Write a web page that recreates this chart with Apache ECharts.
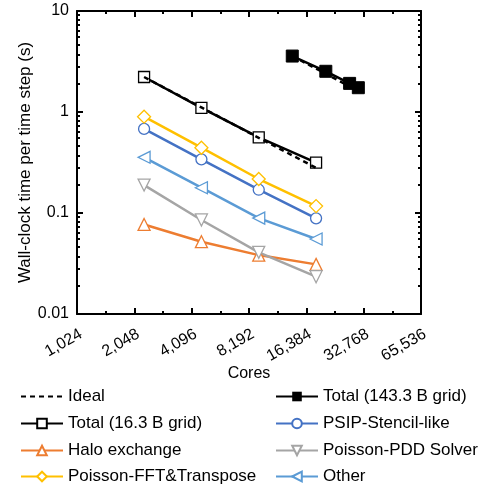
<!DOCTYPE html>
<html><head><meta charset="utf-8">
<script src="https://cdn.jsdelivr.net/npm/echarts@6/dist/echarts.min.js"></script>
<style>html,body{margin:0;padding:0;background:#fff}#c{width:482px;height:487px}</style>
</head><body><div id="c"></div>
<script>
const coresSmall = [2304, 4608, 9216, 18432];
const coresLarge = [13824, 20736, 27648, 30720];
const idealSmall = [2.22, 1.11, 0.555, 0.28];
const idealLarge = [3.58, 2.39, 1.79, 1.61];
const totalLarge = [3.58, 2.53, 1.92, 1.74];
const totalSmall = [2.22, 1.10, 0.562, 0.315];
const psip = [0.68, 0.34, 0.17, 0.0885];
const halo = [0.077, 0.052, 0.0383, 0.031];
const pdd = [0.189, 0.0853, 0.0408, 0.0234];
const fft = [0.899, 0.443, 0.217, 0.117];
const other = [0.356, 0.178, 0.089, 0.0553];
const xTicks = ['1,024','2,048','4,096','8,192','16,384','32,768','65,536'];
const legendLeft = ['Ideal','Total (16.3 B grid)','Halo exchange','Poisson-FFT&Transpose'];
const legendRight = ['Total (143.3 B grid)','PSIP-Stencil-like','Poisson-PDD Solver','Other'];

const FONT = 'Liberation Sans, Arial, sans-serif';
function pairs(xs, ys){ return xs.map((x,i)=>[x, ys[i]]); }
function openSeries(name, color, ys, symbol, rot, size){
  return {name, type:'line', xAxisIndex:0, yAxisIndex:0, data:pairs(coresSmall, ys),
    symbol, symbolRotate: rot||0, symbolSize: size||11,
    lineStyle:{color, width:2.5}, itemStyle:{color:'#fff', borderColor:color, borderWidth:1.3},
    z:3};
}
const chart = echarts.init(document.getElementById('c'), null, {renderer:'canvas'});
const axisLine = {show:true, lineStyle:{color:'#000', width:2}};
const rowTops = [388, 415, 442, 468];
function mkLegend(left, name, row){
  const item = name === 'Ideal'
    ? {name, itemStyle:{color:'rgba(0,0,0,0)', borderColor:'rgba(0,0,0,0)', opacity:0}}
    : name;
  return {left, top:rowTops[row], orient:'horizontal', padding:0, itemWidth:42, itemHeight:12,
    textStyle:{fontSize:17, color:'#000', fontFamily:FONT}, data:[item]};
}
const legends = [];
legendLeft.forEach((n,i)=>legends.push(mkLegend(20, n, i)));
legendRight.forEach((n,i)=>legends.push(mkLegend(275, n, i)));
chart.setOption({
  animation:false,
  textStyle:{fontFamily:FONT},
  grid:{left:77, right:61, top:11, bottom:173, containLabel:false},
  xAxis:[
    {type:'log', logBase:2, min:1024, max:65536, interval:1, position:'bottom',
     axisLine, axisTick:{show:false}, splitLine:{show:false},
     axisLabel:{rotate:30, margin:12, verticalAlign:'top', fontSize:16, color:'#000', fontFamily:FONT,
       formatter:(v)=>{const i=Math.round(Math.log2(v))-10; return xTicks[i]||'';}},
     name:'Cores', nameLocation:'middle', nameGap:52, nameMoveOverlap:false,
     nameTextStyle:{fontSize:16, color:'#000', fontFamily:FONT}},
    {type:'value', min:10, max:16, interval:1, position:'bottom',
     axisLine:{show:false}, axisLabel:{show:false}, splitLine:{show:false},
     axisTick:{show:true, inside:true, length:6, lineStyle:{color:'#000', width:2}},
     minorTick:{show:true, splitNumber:2, length:3, lineStyle:{color:'#000', width:2}}},
    {type:'value', min:10, max:16, interval:1, position:'top',
     axisLine, axisLabel:{show:false}, splitLine:{show:false},
     axisTick:{show:true, inside:true, length:6, lineStyle:{color:'#000', width:2}},
     minorTick:{show:true, splitNumber:2, length:3, lineStyle:{color:'#000', width:2}}}
  ],
  yAxis:[
    {type:'log', logBase:10, min:0.01, max:10, position:'left',
     axisLine, splitLine:{show:false},
     axisTick:{show:true, inside:true, length:6, lineStyle:{color:'#000', width:2}},
     minorTick:{show:true, splitNumber:10, length:3, lineStyle:{color:'#000', width:2}},
     axisLabel:{fontSize:16, color:'#000', fontFamily:FONT, margin:8,
       formatter:(v)=>String(v)},
     name:'Wall-clock time per time step (s)', nameLocation:'middle', nameGap:43, nameMoveOverlap:false,
     nameTextStyle:{fontSize:17, color:'#000', fontFamily:FONT}},
    {type:'log', logBase:10, min:0.01, max:10, position:'right',
     axisLine, splitLine:{show:false}, axisLabel:{show:false},
     axisTick:{show:true, inside:true, length:6, lineStyle:{color:'#000', width:2}},
     minorTick:{show:true, splitNumber:10, length:3, lineStyle:{color:'#000', width:2}}}
  ],
  legend:legends,
  series:[
    {name:'Ideal', type:'line', data:pairs(coresSmall, idealSmall), symbol:'none',
     lineStyle:{color:'#000', width:2.5, type:[5,4]}, itemStyle:{color:'#000'}, z:4},
    {name:'Ideal', type:'line', data:pairs(coresLarge, idealLarge), symbol:'none',
     lineStyle:{color:'#000', width:2.5, type:[5,4]}, itemStyle:{color:'#000'}, z:4},
    {name:'Total (143.3 B grid)', type:'line', data:pairs(coresLarge, totalLarge),
     symbol:'rect', symbolSize:12, lineStyle:{color:'#000', width:2.5},
     itemStyle:{color:'#000', borderColor:'#000'}, z:3},
    openSeries('Total (16.3 B grid)', '#000000', totalSmall, 'rect', 0, 11),
    openSeries('PSIP-Stencil-like', '#4472C4', psip, 'circle', 0, 11),
    openSeries('Halo exchange', '#ED7D31', halo, 'triangle', 0, 12),
    openSeries('Poisson-PDD Solver', '#A5A5A5', pdd, 'triangle', 180, 12),
    openSeries('Poisson-FFT&Transpose', '#FFC000', fft, 'diamond', 0, 13),
    openSeries('Other', '#5B9BD5', other, 'triangle', 90, 12)
  ]
});
</script></body></html>
